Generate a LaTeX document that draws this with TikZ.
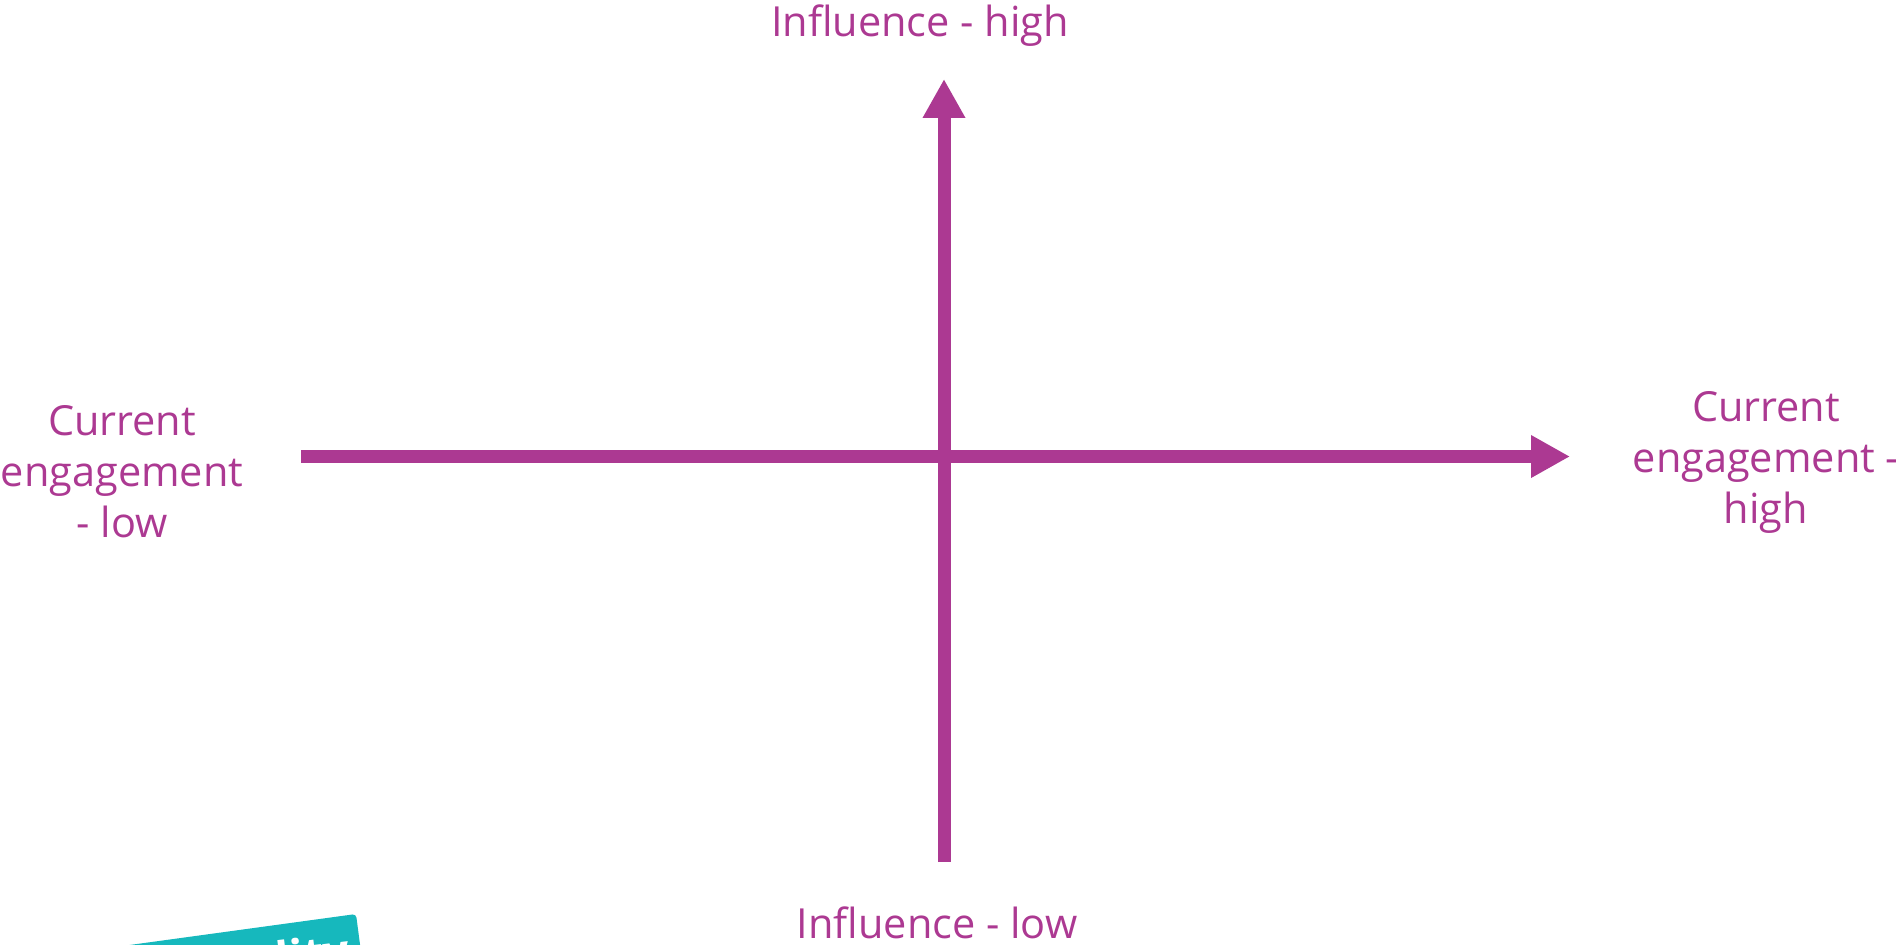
\documentclass[tikz,border=0pt]{standalone}
\usepackage{fontspec}
\setmainfont{Open Sans}
\usetikzlibrary{arrows.meta}
\definecolor{axispurple}{RGB}{172,57,146}
\definecolor{tealtab}{RGB}{22,184,189}
\begin{document}
\begin{tikzpicture}[x=0.02cm,y=-0.02cm,
  axis/.style={draw=axispurple,line width=0.26cm,
    -{Triangle[length=0.78cm,width=0.8cm]}},
  axislabel/.style={text=axispurple,font=\fontsize{23.6}{29}\selectfont,
    align=center,inner sep=0pt},
  tablabel/.style={text=white,font=\bfseries\fontsize{26}{30}\selectfont,
    inner sep=0pt}]
\useasboundingbox (0,0) rectangle (1896,944);
\clip (0,0) rectangle (1896,944);

% axis end points
\coordinate (vtop) at (944,79);
\coordinate (vbot) at (944,862);
\coordinate (hleft) at (301,456.5);
\coordinate (hright) at (1570,456.5);

\draw[axis] (vbot) -- (vtop);
\draw[axis] (hleft) -- (hright);

% axis labels (base anchor sits on the last line)
\node[axislabel,anchor=base] (inhigh) at (920,36) {Influence - high};
\node[axislabel,anchor=base] (inlow) at (937,938) {Influence - low};
\node[axislabel,anchor=base] (englow) at (122,537) {Current\\engagement\\- low};
\node[axislabel,anchor=base] (enghigh) at (1766,523) {Current\\engagement -\\high};

% tilted tab in the lower left corner
\fill[tealtab,rounded corners=2pt] (20,960) -- (356,914) -- (366,990) -- (30,1036) -- cycle;
\node[tablabel,anchor=base east,rotate=7] (tab) at (352,966) {lity};
\end{tikzpicture}
\end{document}
